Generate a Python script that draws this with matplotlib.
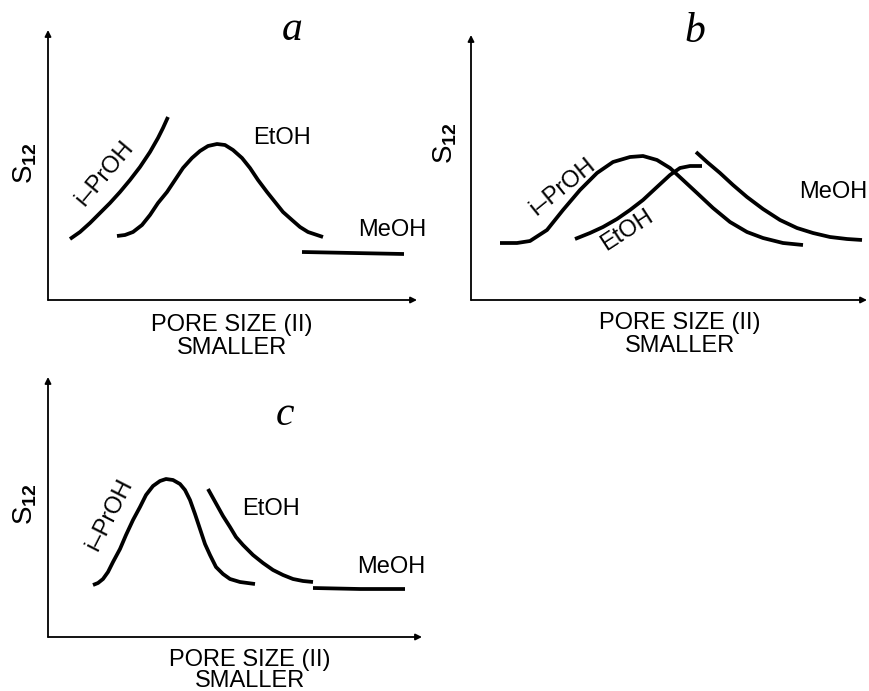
import matplotlib
matplotlib.use("Agg")
import matplotlib.pyplot as plt

plt.rcParams['font.family'] = ['Liberation Sans', 'DejaVu Sans']
plt.rcParams['mathtext.fontset'] = 'custom'
plt.rcParams['mathtext.rm'] = 'Liberation Sans'
plt.rcParams['mathtext.bf'] = 'Liberation Sans:bold'

# schematic curves, arbitrary units (x = pore size, y = S12)
# panel a
a_ipr_x = [22, 32, 42, 52, 62, 72, 82, 92, 102, 110, 115, 120]
a_ipr_y = [61, 68, 77, 87, 97, 108, 120, 133, 148, 162, 172, 183]
a_et_x = [69, 77, 85, 94, 102, 110, 119, 127, 135, 144, 152, 160, 169,
          177, 185, 194, 202, 210, 219, 227, 235, 244, 252, 260, 269, 275]
a_et_y = [64, 65, 68, 75, 85, 97, 108, 120, 132, 142, 149, 154, 156,
          155, 150, 142, 132, 120, 108, 98, 88, 80, 73, 68, 65, 63]
a_me_x = [254, 305, 356]
a_me_y = [48, 47, 46]

# panel b
b_ipr_x = [29, 46, 59, 76, 92, 109, 126, 142, 159, 172, 186, 199, 212, 226,
           242, 259, 276, 292, 312, 332]
b_ipr_y = [57, 57, 59, 70, 90, 110, 127, 138, 143, 144, 140, 132, 120, 107,
           92, 78, 68, 62, 57, 55]
b_et_x = [104, 119, 132, 146, 159, 172, 186, 199, 209, 219, 231]
b_et_y = [61, 67, 73, 81, 90, 100, 113, 125, 132, 134, 134]
b_me_x = [225, 236, 249, 262, 276, 292, 309, 326, 342, 359, 376, 391]
b_me_y = [148, 138, 127, 115, 103, 91, 80, 72, 67, 63, 61, 60]

# panel c
c_ipr_x = [45, 50, 55, 60, 65, 72, 78, 85, 92, 98, 105, 112, 118, 125, 132,
           137, 142, 147, 152, 157, 162, 168, 175, 182, 192, 207]
c_ipr_y = [52, 54, 58, 65, 75, 88, 102, 117, 130, 142, 151, 156, 158, 157, 153,
           147, 137, 123, 108, 93, 82, 70, 63, 58, 55, 53]
c_et_x = [160, 165, 170, 175, 182, 188, 195, 205, 215, 225, 235, 245, 255, 265]
c_et_y = [148, 139, 130, 121, 110, 100, 92, 82, 74, 67, 62, 58, 56, 55]
c_me_x = [265, 312, 357]
c_me_y = [49, 48, 48]

W, H = 869, 691
fig = plt.figure(figsize=(W / 100, H / 100), dpi=100)

label_size = 17
axis_size = 17


def panel(rect, xlen, ylen):
    ax = fig.add_axes(rect)
    ax.set_xlim(0, xlen)
    ax.set_ylim(0, ylen)
    ax.axis('off')
    arrow = dict(arrowstyle='-|>', lw=1.3, color='black', mutation_scale=9,
                 shrinkA=0, shrinkB=0)
    ax.annotate('', xy=(1, 0), xytext=(0, 0), xycoords='axes fraction',
                arrowprops=arrow, annotation_clip=False)
    ax.annotate('', xy=(0, 1), xytext=(0, 0), xycoords='axes fraction',
                arrowprops=arrow, annotation_clip=False)
    return ax


def deco(ax, letter, lpos, s_pos, xl_pos, gap=23):
    ax.text(lpos[0], lpos[1], letter, fontsize=30, style='italic',
            family='Liberation Serif', ha='center', va='center', clip_on=False)
    ax.text(s_pos[0], s_pos[1], r'S$_{\mathbf{12}}$', fontsize=20, rotation=90,
            ha='center', va='center', clip_on=False)
    ax.text(xl_pos[0], xl_pos[1], 'PORE SIZE (II)', fontsize=axis_size,
            ha='center', va='center', clip_on=False)
    ax.text(xl_pos[0], xl_pos[1] - gap, 'SMALLER', fontsize=axis_size,
            ha='center', va='center', clip_on=False)


kw = dict(color='black', lw=2.7, solid_capstyle='butt',
          solid_joinstyle='round', clip_on=False)

# a
ax = panel([48 / W, 391 / H, 369 / W, 270 / H], 369, 270)
ax.plot(a_ipr_x, a_ipr_y, **kw)
ax.plot(a_et_x, a_et_y, **kw)
ax.plot(a_me_x, a_me_y, **kw)
ax.text(57, 127, 'i\u2013PrOH', fontsize=label_size, rotation=50,
        ha='center', va='center', rotation_mode='anchor')
ax.text(234, 162, 'EtOH', fontsize=label_size, ha='center', va='center')
ax.text(344, 70, 'MeOH', fontsize=label_size, ha='center', va='center')
deco(ax, 'a', (244, 270), (-23, 137), (184, -25))

# b
ax = panel([471 / W, 391 / H, 396 / W, 265 / H], 396, 265)
ax.plot(b_ipr_x, b_ipr_y, **kw)
ax.plot(b_et_x, b_et_y, **kw)
ax.plot(b_me_x, b_me_y, **kw)
ax.text(92, 113, 'i\u2013PrOH', fontsize=label_size, rotation=39,
        ha='center', va='center', rotation_mode='anchor')
ax.text(156, 70, 'EtOH', fontsize=label_size, rotation=33,
        ha='center', va='center', rotation_mode='anchor')
ax.text(362, 108, 'MeOH', fontsize=label_size, ha='center', va='center')
deco(ax, 'b', (224, 268), (-26, 157), (209, -23))

# c
ax = panel([48 / W, 54 / H, 374 / W, 260 / H], 374, 260)
ax.plot(c_ipr_x, c_ipr_y, **kw)
ax.plot(c_et_x, c_et_y, **kw)
ax.plot(c_me_x, c_me_y, **kw)
ax.text(62, 122, 'i\u2013PrOH', fontsize=label_size, rotation=63,
        ha='center', va='center', rotation_mode='anchor')
ax.text(223, 128, 'EtOH', fontsize=label_size, ha='center', va='center')
ax.text(343, 70, 'MeOH', fontsize=label_size, ha='center', va='center')
deco(ax, 'c', (237, 222), (-23, 133), (202, -23), gap=21)

fig.savefig('out.png', dpi=100, facecolor='white')
